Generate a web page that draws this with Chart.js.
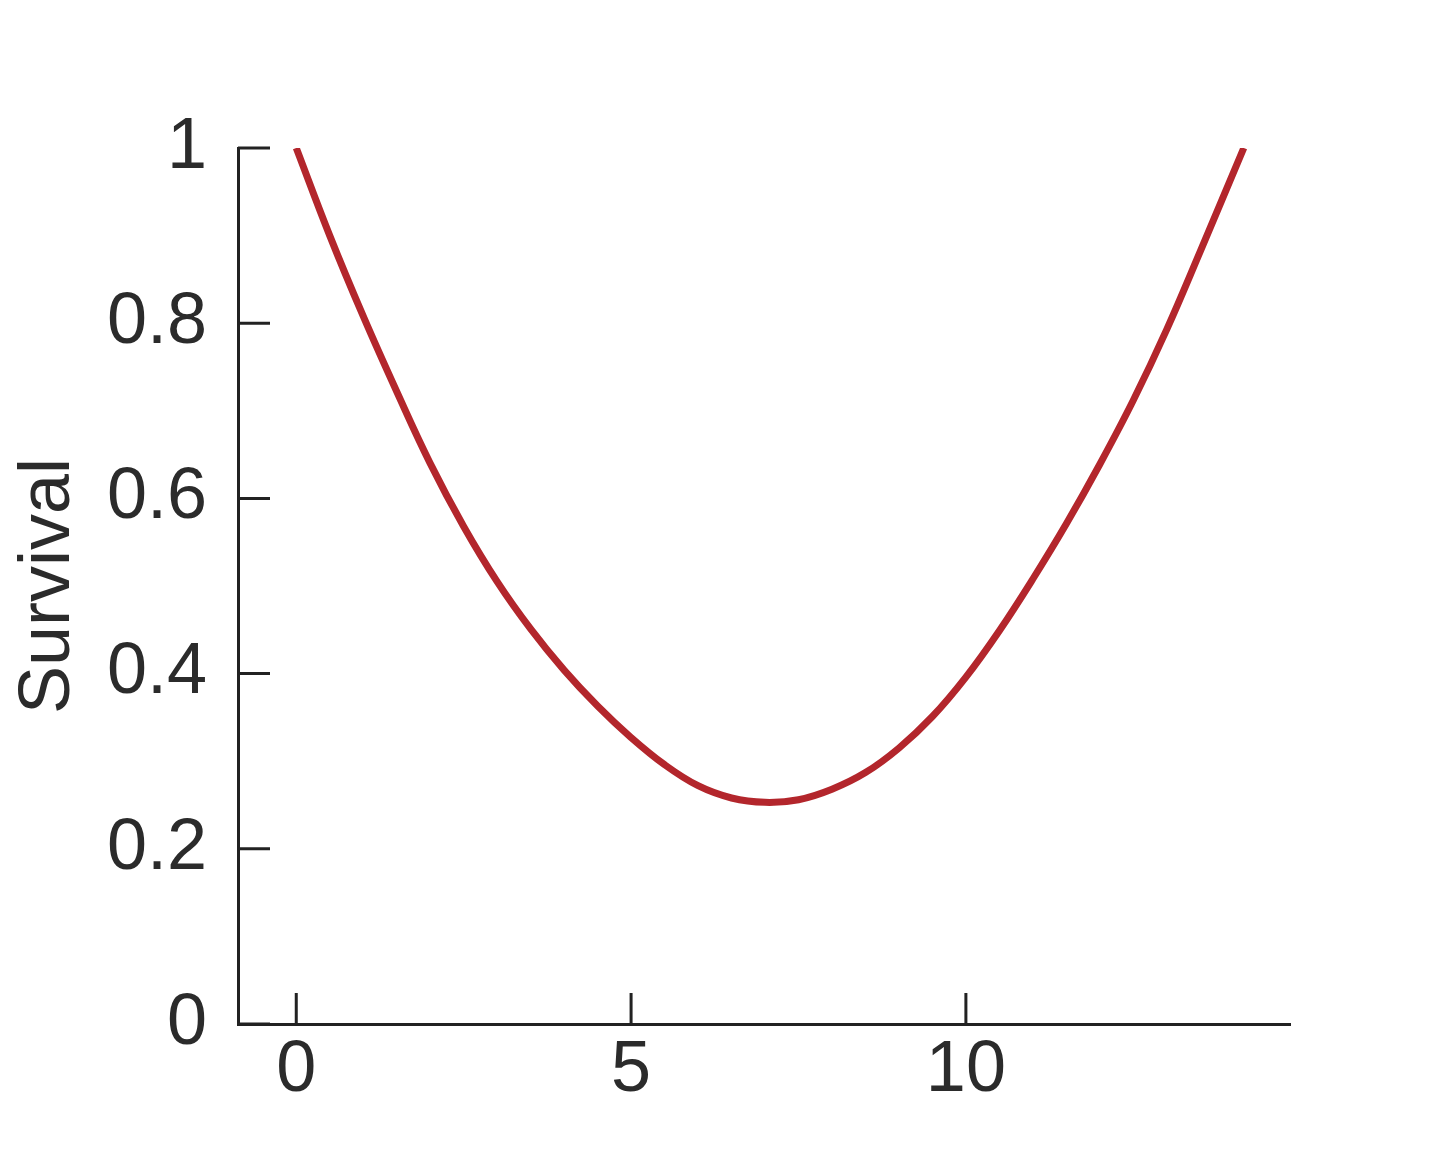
<!DOCTYPE html>
<html>
<head>
<meta charset="utf-8">
<script src="https://cdn.jsdelivr.net/npm/chart.js@4.4.1/dist/chart.umd.min.js"></script>
<style>
    body { margin: 0; background: #ffffff; }
    #wrap { width: 1440px; height: 1159px; }
</style>
</head>
<body>
<div id="wrap"><canvas id="grafico"></canvas></div>
<script>
// valores
const idade = [0, 0.5, 1, 1.5, 2, 2.5, 3, 3.5, 4, 4.5, 5, 5.5, 6, 6.5, 7, 7.5, 8, 8.5, 9, 9.5, 10, 10.5, 11, 11.5, 12, 12.5, 13, 13.5, 14.15];
const sobrevivencia = [1.0, 0.9, 0.808, 0.722, 0.64, 0.568, 0.505, 0.451, 0.404, 0.363, 0.327, 0.296, 0.272, 0.258, 0.253, 0.256, 0.268, 0.287, 0.315, 0.351, 0.396, 0.449, 0.508, 0.571, 0.639, 0.712, 0.793, 0.882, 1.0];
const ticksX = [0, 5, 10];
const ticksY = [0, 0.2, 0.4, 0.6, 0.8, 1];

const corTexto = '#2b2b2b';
const corEixo = '#222222';

// desenha os tracinhos para dentro do grafico
const tracinhos = {
    id: 'tracinhos',
    afterDraw(chart) {
        const ctx = chart.ctx;
        const x = chart.scales.x;
        const y = chart.scales.y;
        ctx.save();
        ctx.strokeStyle = corEixo;
        ctx.lineWidth = 3;
        ctx.beginPath();
        ticksY.forEach(v => {
            let py = y.getPixelForValue(v);
            ctx.moveTo(x.left, py);
            ctx.lineTo(x.left + 32, py);
        });
        ticksX.forEach(v => {
            let px = x.getPixelForValue(v);
            ctx.moveTo(px, y.bottom);
            ctx.lineTo(px, y.bottom - 31);
        });
        ctx.stroke();
        ctx.restore();
    }
};

let pontos = [];
for (let i = 0; i < idade.length; i++) {
    pontos.push({ x: idade[i], y: sobrevivencia[i] });
}

new Chart(document.getElementById('grafico'), {
    type: 'line',
    data: {
        datasets: [
            {
                label: 'Survival',
                data: pontos,
                borderColor: '#b3262c',
                borderWidth: 7,
                pointRadius: 0,
                fill: false,
                tension: 0.4
            }
        ]
    },
    options: {
        responsive: true,
        maintainAspectRatio: false,
        animation: false,
        devicePixelRatio: 1,
        layout: {
            padding: { left: 0, top: 148, right: 150, bottom: 0 }
        },
        plugins: {
            legend: { display: false },
            tooltip: { enabled: false }
        },
        scales: {
            x: {
                type: 'linear',
                min: -0.87,
                max: 14.84,
                afterBuildTicks: scale => {
                    scale.ticks = ticksX.map(v => ({ value: v }));
                },
                afterFit: scale => { scale.height = 135; },
                grid: { display: false, drawTicks: false },
                border: { display: true, color: corEixo, width: 3 },
                ticks: {
                    color: corTexto,
                    padding: 4,
                    maxRotation: 0,
                    callback: v => String(v),
                    font: { family: 'Liberation Sans', size: 72 }
                }
            },
            y: {
                min: 0,
                max: 1,
                afterBuildTicks: scale => {
                    scale.ticks = ticksY.map(v => ({ value: v }));
                },
                afterFit: scale => { scale.width = 238; },
                grid: { display: false, drawTicks: false },
                border: { display: true, color: corEixo, width: 3 },
                title: {
                    display: true,
                    text: 'Survival',
                    color: corTexto,
                    padding: { top: 6, bottom: 0 },
                    font: { family: 'Liberation Sans', size: 72 }
                },
                ticks: {
                    color: corTexto,
                    padding: 31,
                    callback: v => String(v),
                    font: { family: 'Liberation Sans', size: 72 }
                }
            }
        }
    },
    plugins: [tracinhos]
});
</script>
</body>
</html>
